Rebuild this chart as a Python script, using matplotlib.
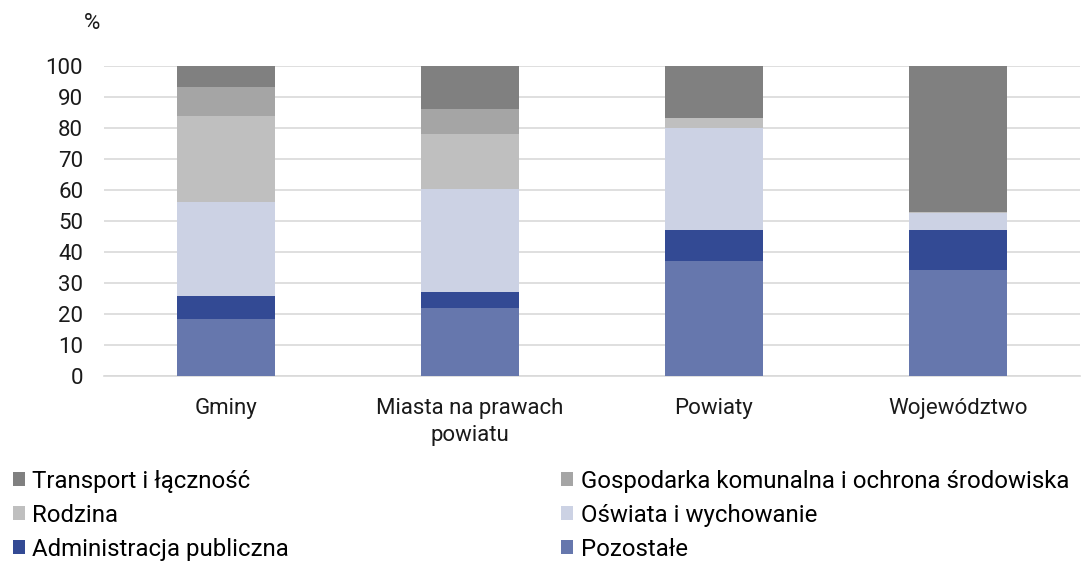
import matplotlib.pyplot as plt
import numpy as np

plt.rcParams['font.family'] = ['Roboto', 'DejaVu Sans']

# Dane
kategorie = ['Gminy', 'Miasta na prawach\npowiatu', 'Powiaty', 'Województwo']
pozostale = [18.5, 22.0, 37.2, 34.2]
administracja = [7.4, 5.1, 9.8, 12.8]
oswiata = [30.1, 33.2, 32.9, 5.5]
rodzina = [27.9, 17.7, 3.4, 0.3]
gospodarka = [9.3, 8.1, 0.0, 0.2]
transport = [6.8, 13.9, 16.7, 47.0]

serie = [
    ('Pozostałe', pozostale, '#6677ad'),
    ('Administracja publiczna', administracja, '#334a94'),
    ('Oświata i wychowanie', oswiata, '#ccd2e4'),
    ('Rodzina', rodzina, '#bfbfbf'),
    ('Gospodarka komunalna i ochrona środowiska', gospodarka, '#a5a5a5'),
    ('Transport i łączność', transport, '#808080'),
]

fig = plt.figure(figsize=(10.9, 5.61), dpi=100)
ax = fig.add_axes([0.0954, 0.3298, 0.8954, 0.5526])

x = np.arange(len(kategorie))
dol = np.zeros(len(kategorie))
uchwyty = {}
for nazwa, wartosci, kolor in serie:
    b = ax.bar(x, wartosci, 0.4, bottom=dol, color=kolor, zorder=3)
    uchwyty[nazwa] = b
    dol += np.array(wartosci)

ax.set_ylim(0, 100)
ax.set_xlim(-0.5, 3.5)
ax.set_yticks(range(0, 101, 10))
ax.set_xticks(x)
ax.set_xticklabels(kategorie, fontsize=16, color='#1a1a1a', linespacing=1.35)
ax.tick_params(axis='y', labelsize=16, length=0, pad=15, colors='#1a1a1a')
ax.tick_params(axis='x', length=0, pad=16)
ax.grid(axis='y', color='#d9d9d9', linewidth=1.2, zorder=0)
for s in ['top', 'right', 'left']:
    ax.spines[s].set_visible(False)
ax.spines['bottom'].set_color('#d9d9d9')
ax.spines['bottom'].set_linewidth(1.2)

fig.text(0.0845, 0.958, '%', fontsize=16, ha='center', va='center', color='#1a1a1a')

# Legenda - dwie kolumny
kol1 = ['Transport i łączność', 'Rodzina', 'Administracja publiczna']
kol2 = ['Gospodarka komunalna i ochrona środowiska', 'Oświata i wychowanie', 'Pozostałe']
opcje = dict(loc='upper left', frameon=False, fontsize=17.3,
             handlelength=0.5, handleheight=0.5, handletextpad=0.3,
             labelspacing=0.46, borderaxespad=0, borderpad=0)
leg1 = fig.legend([uchwyty[k] for k in kol1], kol1, bbox_to_anchor=(0.012, 0.163), **opcje)
leg2 = fig.legend([uchwyty[k] for k in kol2], kol2, bbox_to_anchor=(0.515, 0.163), **opcje)

plt.savefig('out.png', dpi=100)
